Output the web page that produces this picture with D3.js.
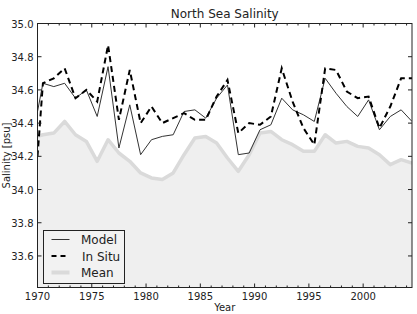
<!DOCTYPE html>
<html>
<head>
<meta charset="utf-8">
<script src="https://cdn.jsdelivr.net/npm/d3@7"></script>
<style>
  body { margin: 0; background: #fff; }
  svg { display: block; font-family: "DejaVu Sans", sans-serif; }
</style>
</head>
<body>
<svg id="chart" width="417" height="314"></svg>
<script>
// yearly values, first entry is the start of the axis (1970.0)
var years = [1970, 1970.5, 1971.5, 1972.5, 1973.5, 1974.5, 1975.5, 1976.5, 1977.5, 1978.5, 1979.5,
    1980.5, 1981.5, 1982.5, 1983.5, 1984.5, 1985.5, 1986.5, 1987.5, 1988.5, 1989.5,
    1990.5, 1991.5, 1992.5, 1993.5, 1994.5, 1995.5, 1996.5, 1997.5, 1998.5, 1999.5,
    2000.5, 2001.5, 2002.5, 2003.5, 2004.5];

var model = [34.47, 34.64, 34.62, 34.64, 34.55, 34.60, 34.44, 34.74, 34.25, 34.51, 34.21,
    34.30, 34.32, 34.33, 34.47, 34.48, 34.43, 34.55, 34.63, 34.21, 34.22,
    34.36, 34.39, 34.55, 34.48, 34.45, 34.41, 34.67, 34.58, 34.50, 34.44,
    34.54, 34.36, 34.44, 34.48, 34.41];

var inSitu = [34.20, 34.64, 34.67, 34.73, 34.55, 34.60, 34.53, 34.87, 34.42, 34.72, 34.40,
    34.50, 34.40, 34.43, 34.46, 34.42, 34.42, 34.56, 34.66, 34.34, 34.40,
    34.39, 34.44, 34.73, 34.53, 34.37, 34.27, 34.73, 34.72, 34.59, 34.55,
    34.56, 34.37, 34.50, 34.67, 34.67];

var mean = [34.32, 34.33, 34.34, 34.41, 34.33, 34.29, 34.17, 34.30, 34.22, 34.17, 34.10,
    34.07, 34.06, 34.10, 34.21, 34.31, 34.32, 34.28, 34.19, 34.11, 34.21,
    34.34, 34.35, 34.30, 34.27, 34.23, 34.23, 34.33, 34.28, 34.29, 34.26,
    34.25, 34.21, 34.15, 34.18, 34.16];

var xTicks = [1970, 1975, 1980, 1985, 1990, 1995, 2000];
var yTicks = [33.6, 33.8, 34.0, 34.2, 34.4, 34.6, 34.8, 35.0];

var legendItems = ['Model', 'In Situ', 'Mean'];

var margin = {left: 37.5, right: 5, top: 23.5, bottom: 26.5};
var width = 417, height = 314;

var svg = d3.select('#chart');

var x = d3.scaleLinear()
    .domain([1970, 2004.5])
    .range([margin.left, width - margin.right]);

var y = d3.scaleLinear()
    .domain([33.41, 35.0])
    .range([height - margin.bottom, margin.top]);

svg.append('defs').append('clipPath')
    .attr('id', 'plotClip')
    .append('rect')
    .attr('x', margin.left)
    .attr('y', margin.top)
    .attr('width', x.range()[1] - margin.left)
    .attr('height', y.range()[0] - margin.top);

var plot = svg.append('g').attr('clip-path', 'url(#plotClip)');

var idx = d3.range(years.length);

// mean: filled area with a thick light line on top
var area = d3.area()
    .x(function(i){ return x(years[i]); })
    .y0(y(33.41))
    .y1(function(i){ return y(mean[i]); });

plot.append('path')
    .datum(idx)
    .attr('d', area)
    .attr('fill', '#efefef');

function lineFor(values){
    return d3.line()
        .x(function(i){ return x(years[i]); })
        .y(function(i){ return y(values[i]); });
}

plot.append('path')
    .datum(idx)
    .attr('d', lineFor(mean))
    .attr('fill', 'none')
    .attr('stroke', '#dadada')
    .attr('stroke-width', 3.5)
    .attr('stroke-linejoin', 'round');

plot.append('path')
    .datum(idx)
    .attr('d', lineFor(model))
    .attr('fill', 'none')
    .attr('stroke', '#333')
    .attr('stroke-width', 1);

plot.append('path')
    .datum(idx)
    .attr('d', lineFor(inSitu))
    .attr('fill', 'none')
    .attr('stroke', '#000')
    .attr('stroke-width', 2)
    .attr('stroke-dasharray', '6,4');

// axes, ticks pointing inwards on all four sides
var x0 = x.range()[0], x1 = x.range()[1];
var yb = y.range()[0], yt = y.range()[1];

var minorX = d3.range(1971, 2005).filter(function(d){ return d % 5 !== 0; });

var tickG = svg.append('g').attr('stroke', '#222').attr('stroke-width', 1);

xTicks.forEach(function(d){
    tickG.append('line').attr('x1', x(d)).attr('x2', x(d)).attr('y1', yb).attr('y2', yb - 4);
    tickG.append('line').attr('x1', x(d)).attr('x2', x(d)).attr('y1', yt).attr('y2', yt + 4);
});
minorX.forEach(function(d){
    tickG.append('line').attr('x1', x(d)).attr('x2', x(d)).attr('y1', yb).attr('y2', yb - 2);
    tickG.append('line').attr('x1', x(d)).attr('x2', x(d)).attr('y1', yt).attr('y2', yt + 2);
});
yTicks.forEach(function(d){
    tickG.append('line').attr('x1', x0).attr('x2', x0 + 4).attr('y1', y(d)).attr('y2', y(d));
    tickG.append('line').attr('x1', x1).attr('x2', x1 - 4).attr('y1', y(d)).attr('y2', y(d));
});

svg.append('rect')
    .attr('x', x0)
    .attr('y', yt)
    .attr('width', x1 - x0)
    .attr('height', yb - yt)
    .attr('fill', 'none')
    .attr('stroke', '#222')
    .attr('stroke-width', 1);

svg.append('g').selectAll('text')
    .data(xTicks)
    .enter()
    .append('text')
    .attr('x', function(d){ return x(d); })
    .attr('y', yb + 12)
    .attr('text-anchor', 'middle')
    .attr('font-size', 10)
    .attr('fill', '#222')
    .text(function(d){ return d; });

svg.append('g').selectAll('text')
    .data(yTicks)
    .enter()
    .append('text')
    .attr('x', x0 - 4)
    .attr('y', function(d){ return y(d) + 4; })
    .attr('text-anchor', 'end')
    .attr('font-size', 10)
    .attr('fill', '#222')
    .text(function(d){ return d.toFixed(1); });

svg.append('text')
    .attr('x', (x0 + x1) / 2)
    .attr('y', 18)
    .attr('text-anchor', 'middle')
    .attr('font-size', 12)
    .attr('fill', '#222')
    .text('North Sea Salinity');

svg.append('text')
    .attr('x', (x0 + x1) / 2)
    .attr('y', 311)
    .attr('text-anchor', 'middle')
    .attr('font-size', 10)
    .attr('fill', '#222')
    .text('Year');

svg.append('text')
    .attr('transform', 'translate(9.5,' + ((yt + yb) / 2) + ') rotate(-90)')
    .attr('text-anchor', 'middle')
    .attr('font-size', 10)
    .attr('fill', '#222')
    .text('Salinity [psu]');

// legend
var legend = svg.append('g').attr('transform', 'translate(43.5,230.5)');

legend.append('rect')
    .attr('width', 81)
    .attr('height', 53)
    .attr('fill', '#f2f2f2')
    .attr('stroke', '#222')
    .attr('stroke-width', 1);

var legendStyles = [
    {stroke: '#333', width: 1, dash: null},
    {stroke: '#000', width: 2, dash: '5,4'},
    {stroke: '#dadada', width: 4, dash: null}
];

var entry = legend.selectAll('.entry')
    .data(legendItems)
    .enter()
    .append('g')
    .attr('class', 'entry')
    .attr('transform', function(d, i){ return 'translate(0,' + (9 + i * 16.5) + ')'; });

entry.append('line')
    .attr('x1', 8)
    .attr('x2', 26)
    .attr('stroke', function(d, i){ return legendStyles[i].stroke; })
    .attr('stroke-width', function(d, i){ return legendStyles[i].width; })
    .attr('stroke-dasharray', function(d, i){ return legendStyles[i].dash; });

entry.append('text')
    .attr('x', function(d, i){ return i === 1 ? 38.5 : 37.5; })
    .attr('y', 4.5)
    .attr('font-size', 12)
    .attr('fill', '#222')
    .text(function(d){ return d; });
</script>
</body>
</html>
